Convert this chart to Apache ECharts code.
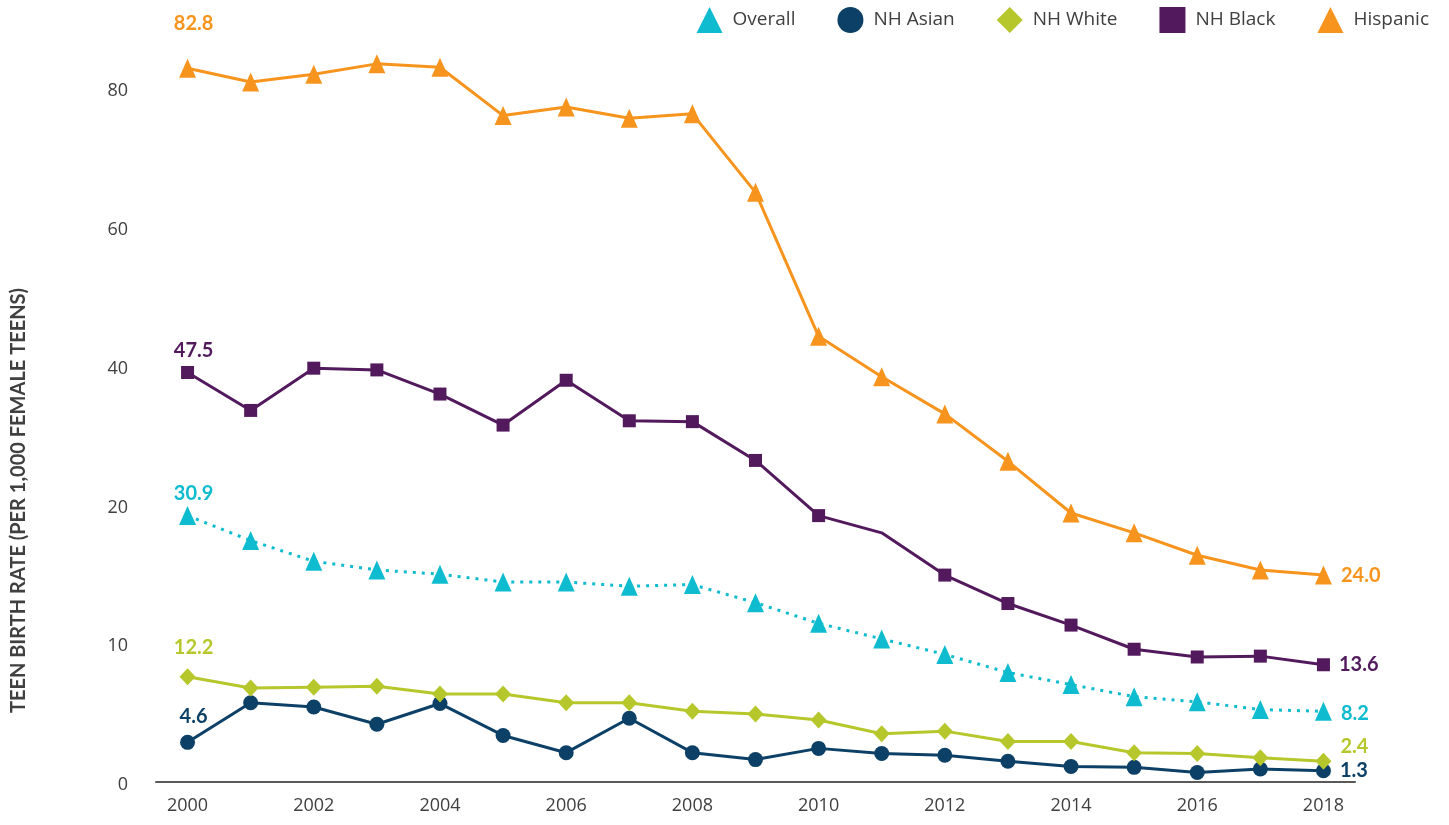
<!DOCTYPE html>
<html>
<head>
<meta charset="utf-8">
<script src="https://cdn.jsdelivr.net/npm/echarts@6/dist/echarts.min.js"></script>
<style>
  html, body { margin: 0; padding: 0; background: #fff; }
  #chart { width: 1449px; height: 825px; }
</style>
</head>
<body>
<div id="chart"></div>
<script>
// years on the x axis
const years = ['2000', '2001', '2002', '2003', '2004', '2005', '2006', '2007', '2008', '2009',
  '2010', '2011', '2012', '2013', '2014', '2015', '2016', '2017', '2018'];
// the y tick labels as printed (ticks are evenly spaced)
const yTickLabels = ['0', '10', '20', '40', '60', '80'];

// teen birth rate per 1,000 female teens
const overall  = [30.9, 28.0, 25.6, 24.6, 24.1, 23.2, 23.2, 22.7, 22.9, 20.8, 18.4, 16.6, 14.8, 12.7, 11.3, 9.9, 9.3, 8.4, 8.2];
const nhAsian  = [4.6, 9.2, 8.7, 6.7, 9.1, 5.4, 3.4, 7.4, 3.4, 2.6, 3.9, 3.3, 3.1, 2.4, 1.8, 1.7, 1.1, 1.5, 1.3];
const nhWhite  = [12.2, 10.9, 11.0, 11.1, 10.2, 10.2, 9.2, 9.2, 8.2, 7.9, 7.2, 5.6, 5.9, 4.7, 4.7, 3.4, 3.3, 2.8, 2.4];
const nhBlack  = [47.5, 43.1, 48.0, 47.8, 45.0, 41.4, 46.6, 41.9, 41.8, 37.3, 30.9, 28.9, 24.0, 20.7, 18.2, 15.4, 14.5, 14.6, 13.6];
const hispanic = [82.8, 81.2, 82.1, 83.3, 82.9, 77.3, 78.3, 77.0, 77.5, 68.4, 51.7, 47.0, 42.7, 37.2, 31.2, 28.9, 26.3, 24.6, 24.0];

const TICK_STEP = 16.1;

// first and last points get a bold value label
function withEndLabels(values, color, firstDy, lastDy, noMarker) {
  const font = { color: color, fontFamily: 'Lato', fontWeight: 'bold', fontSize: 20,
    formatter: p => Number(p.value).toFixed(1) };
  return values.map((v, i) => {
    const item = { value: v };
    if (i === 0) {
      item.label = Object.assign({ show: true, position: 'inside', offset: [6, firstDy] }, font);
    } else if (i === values.length - 1) {
      item.label = Object.assign({ show: true, position: 'right', distance: 9, offset: [0, lastDy] }, font);
    }
    if (noMarker && noMarker.indexOf(i) >= 0) item.symbol = 'none';
    return item;
  });
}

function lineSeries(name, values, color, symbol, size, firstDy, lastDy, extra) {
  return Object.assign({
    name: name,
    type: 'line',
    data: withEndLabels(values, color, firstDy, lastDy, extra && extra.noMarker),
    symbol: symbol,
    symbolSize: size,
    showAllSymbol: true,
    clip: false,
    color: color,
    itemStyle: { color: color },
    lineStyle: { color: color, width: 3 },
    label: { show: false },
    emphasis: { disabled: true },
    animation: false
  }, extra && extra.opts);
}

const myChart = echarts.init(document.getElementById('chart'));

const option = {
  backgroundColor: '#fff',
  animation: false,
  legend: {
    right: 15,
    top: 2,
    itemWidth: 26,
    itemHeight: 26,
    itemGap: 42,
    textStyle: { color: '#404040', fontFamily: 'Open Sans', fontSize: 19, padding: [0, 0, 0, 5] },
    data: [
      { name: 'Overall', icon: 'triangle' },
      { name: 'NH Asian', icon: 'circle' },
      { name: 'NH White', icon: 'diamond' },
      { name: 'NH Black', icon: 'rect' },
      { name: 'Hispanic', icon: 'triangle' }
    ]
  },
  grid: { left: 156, right: 94, top: 88, bottom: 43, containLabel: false },
  xAxis: {
    type: 'category',
    data: years,
    boundaryGap: true,
    axisLine: { lineStyle: { color: '#595959', width: 2 } },
    axisTick: { show: false },
    axisLabel: { interval: 1, color: '#404040', fontFamily: 'Open Sans', fontSize: 18, margin: 15 }
  },
  yAxis: {
    type: 'value',
    min: 0,
    max: TICK_STEP * 5,
    interval: TICK_STEP,
    axisLine: { show: false },
    axisTick: { show: false },
    splitLine: { show: false },
    axisLabel: {
      color: '#404040', fontFamily: 'Open Sans', fontSize: 18, margin: 28,
      formatter: v => '{t|' + (yTickLabels[Math.round(v / TICK_STEP)] || '') + '}',
      rich: { t: { color: '#404040', fontFamily: 'Open Sans', fontSize: 18, padding: [6, 0, 0, 0] } }
    }
  },
  graphic: [{
    type: 'text',
    left: 9,
    top: 288,
    rotation: Math.PI / 2,
    style: {
      text: 'TEEN BIRTH RATE (PER 1,000 FEMALE TEENS)',
      fill: '#404040',
      font: 'bold 20px Lato'
    }
  }],
  series: [
    lineSeries('Overall', overall, '#0FBCCF', 'triangle', [17, 19], -22, 2,
      { opts: { lineStyle: { color: '#0FBCCF', width: 3, type: [3, 6] } } }),
    lineSeries('NH Asian', nhAsian, '#0D4066', 'circle', 15, -26, 0),
    lineSeries('NH White', nhWhite, '#B6C72B', 'diamond', [16, 17], -29, -15),
    lineSeries('NH Black', nhBlack, '#52195D', 'rect', 13, -22, 0, { noMarker: [11] }),
    lineSeries('Hispanic', hispanic, '#F7941D', 'triangle', [17, 19], -45, 0)
  ]
};

myChart.setOption(option);
</script>
</body>
</html>
